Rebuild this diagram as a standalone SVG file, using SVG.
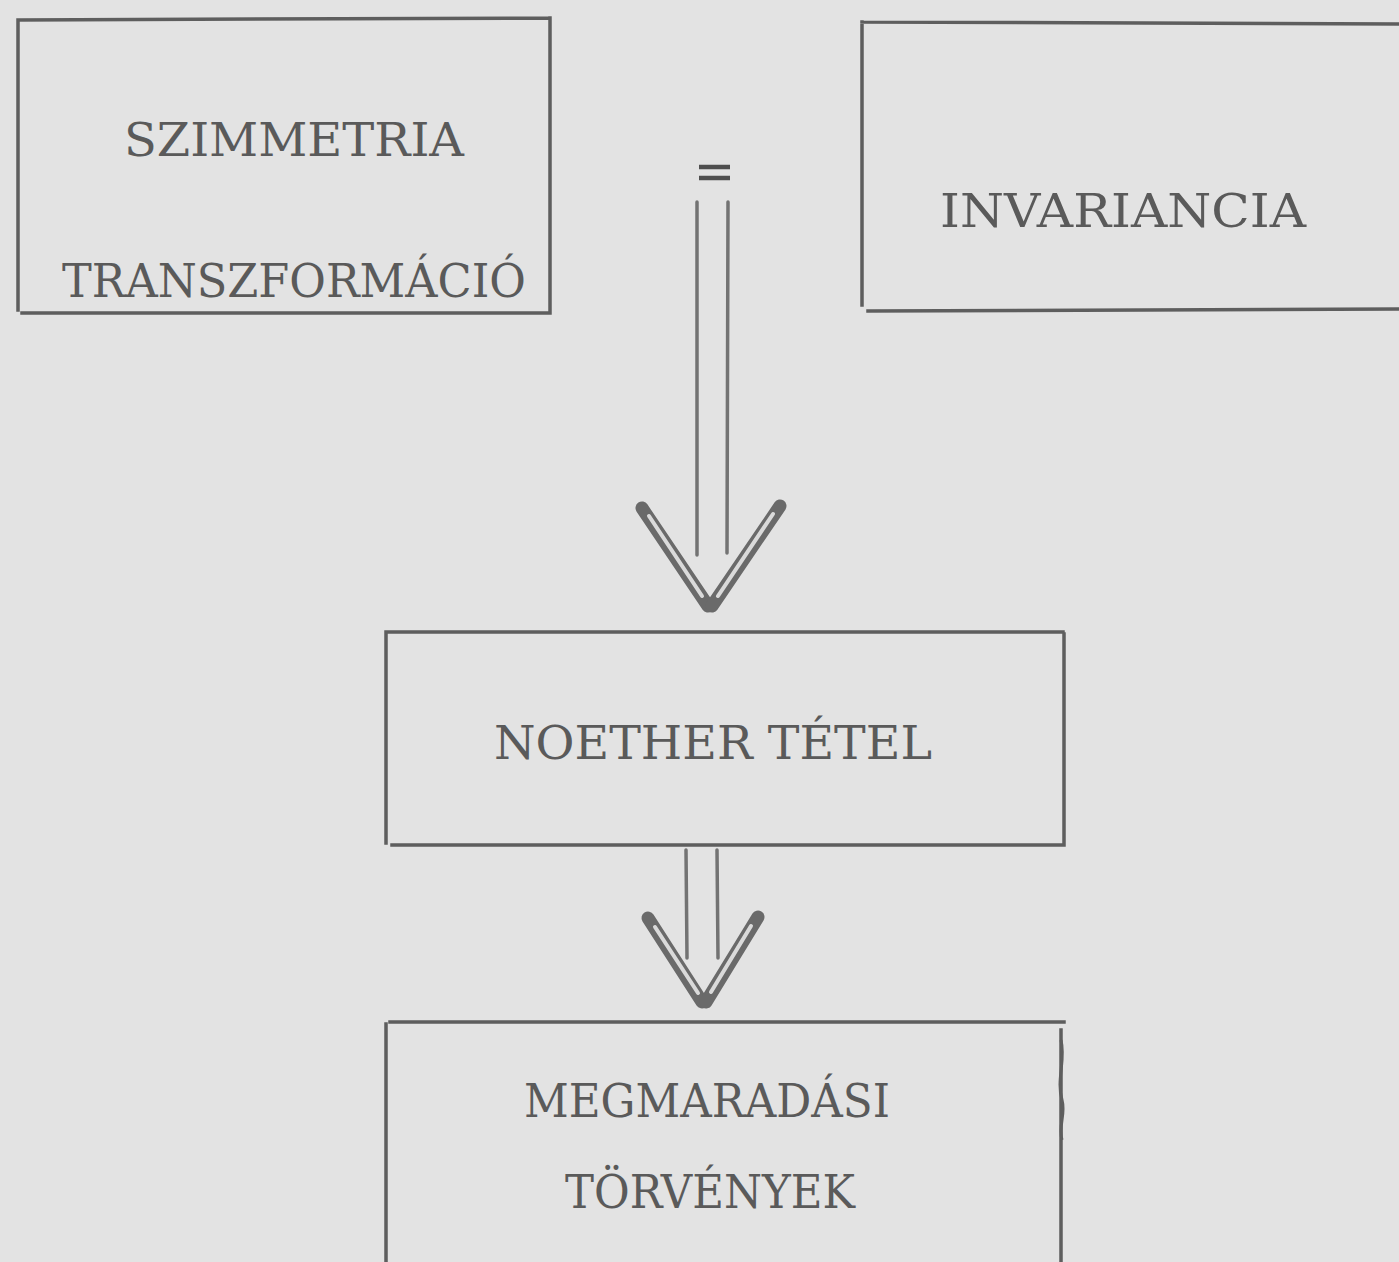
<svg xmlns="http://www.w3.org/2000/svg" width="1399" height="1262" viewBox="0 0 1399 1262">
<style>
.bg{fill:#e3e3e3}
.box{fill:none;stroke:#5e5e5e;stroke-width:3.5;stroke-linecap:square}
.lbl{font-family:"DejaVu Serif","Liberation Serif",serif;font-size:46px;fill:#5a5a5a}
.shaft{fill:none;stroke:#737373;stroke-width:3.5;stroke-linecap:round}
.armo{fill:none;stroke:#6a6a6a;stroke-width:13;stroke-linecap:round}
.armi{fill:none;stroke:#dadada;stroke-width:4;stroke-linecap:round}
.eq{stroke:#4f4f4f;stroke-width:4.5}
</style>
<rect class="bg" x="0" y="0" width="1399" height="1262"/>
<g id="szimmetria">
<path class="box" d="M18,20 L550,18 M18,20 L18,310 M550,18 L550,313 M22,313 L550,313"/>
<text class="lbl" x="124" y="156" textLength="340" lengthAdjust="spacingAndGlyphs">SZIMMETRIA</text>
<text class="lbl" x="62" y="297" textLength="464" lengthAdjust="spacingAndGlyphs">TRANSZFORMÁCIÓ</text>
</g>
<g id="invariancia">
<path class="box" d="M862,22 L1399,24 M862,22 L862,305 M868,311 L1399,309"/>
<text class="lbl" x="940" y="227" textLength="366" lengthAdjust="spacingAndGlyphs">INVARIANCIA</text>
</g>
<g id="eq">
<line class="eq" x1="699" y1="167" x2="730" y2="167"/>
<line class="eq" x1="699" y1="178" x2="730" y2="178"/>
</g>
<g id="noether">
<path class="box" d="M388,632 L1063,632 M386,632 L386,843 M1064,634 L1064,843 M392,845 L1064,845"/>
<text class="lbl" x="494" y="759" textLength="438" lengthAdjust="spacingAndGlyphs">NOETHER TÉTEL</text>
</g>
<g id="megmaradasi">
<path class="box" d="M390,1022 L1064,1022 M386,1024 L386,1262 M1061,1030 L1061,1262"/>
<path fill="none" stroke="#5e5e5e" stroke-width="3" d="M1061,1040 C1066,1060 1056,1080 1062,1100 C1066,1115 1058,1125 1062,1140"/>
<text class="lbl" x="524" y="1117" textLength="366" lengthAdjust="spacingAndGlyphs">MEGMARADÁSI</text>
<text class="lbl" x="565" y="1208" textLength="290" lengthAdjust="spacingAndGlyphs">TÖRVÉNYEK</text>
</g>
<g id="connectors">
<line class="shaft" x1="697" y1="202" x2="697" y2="555"/>
<line class="shaft" x1="728" y1="202" x2="727" y2="553"/>
<path class="armo" d="M642,508 L708,606"/>
<path class="armo" d="M780,506 L712,606"/>
<path class="armi" d="M649,516 L702,596"/>
<path class="armi" d="M773,514 L718,596"/>
<line class="shaft" x1="686" y1="850" x2="687" y2="958"/>
<line class="shaft" x1="717" y1="850" x2="718" y2="958"/>
<path class="armo" d="M648,918 L702,1002"/>
<path class="armo" d="M758,917 L706,1002"/>
<path class="armi" d="M655,927 L698,993"/>
<path class="armi" d="M751,926 L711,992"/>
</g>
</svg>
